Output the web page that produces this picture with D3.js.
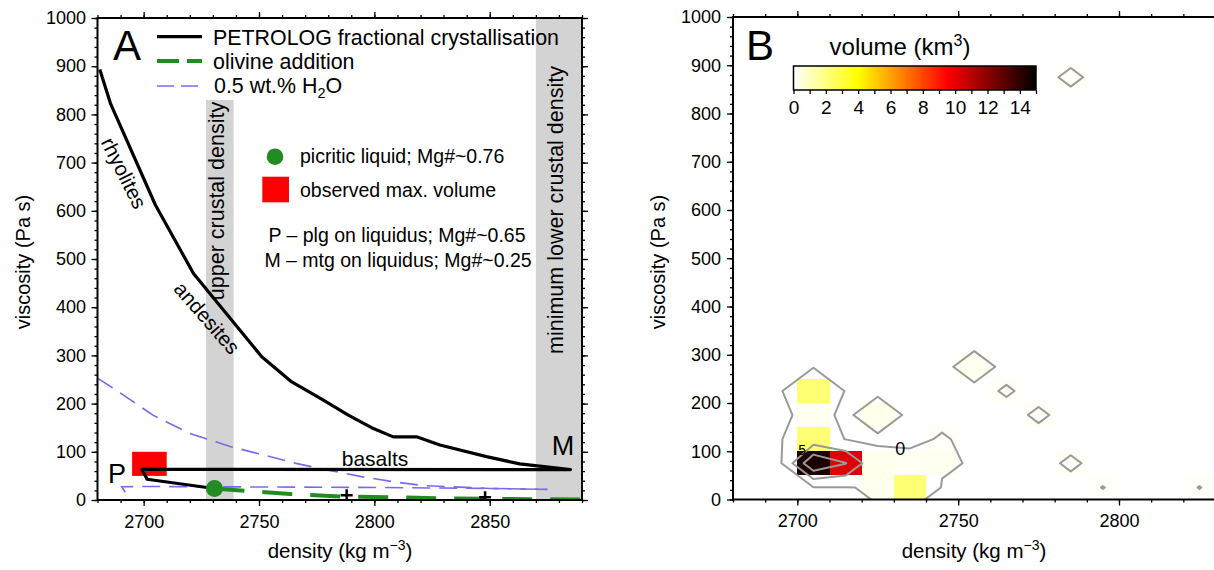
<!DOCTYPE html>
<html><head><meta charset="utf-8">
<script src="https://cdn.jsdelivr.net/npm/d3@7"></script>
<style>
body{margin:0;background:#fff}
svg text{font-family:"Liberation Sans",Arial,Helvetica,sans-serif;fill:#000}
</style></head><body>
<svg id="c" width="1214" height="570" xmlns="http://www.w3.org/2000/svg"></svg>
<script>
// ---------------- DATA (panel A) ----------------
const petrologDensity   = [2681, 2685.6, 2705.1, 2721.6, 2751.2, 2764.2, 2777.9, 2788.7, 2798.8, 2808.2, 2818.3, 2828.4, 2848.6, 2863.0, 2885, 2699.3, 2701.5, 2727.4, 2730.7];
const petrologViscosity = [893, 823, 612, 470, 297, 245, 207, 176, 150, 131, 131, 114, 90, 75, 63, 63.5, 43, 26, 24];
const olivineDensity    = [2730.7, 2739, 2763.5, 2786.5, 2808, 2830, 2852, 2870, 2890];
const olivineViscosity  = [24, 20.7, 12.4, 7, 5.5, 3.5, 2.5, 1.5, 1];
const h2oUpperDensity   = [2680, 2689, 2704, 2720, 2737.5, 2749, 2766, 2781, 2795, 2808, 2821, 2850, 2875];
const h2oUpperViscosity = [253, 225, 176, 138, 111, 97, 76, 61, 48, 38, 30, 24, 22];
const h2oLowerDensity   = [2692, 2690.5, 2700, 2750, 2800, 2850, 2875];
const h2oLowerViscosity = [16, 27.5, 28, 27, 26, 24, 22];
const picriticDensity = [2730.7], picriticViscosity = [24];
const plusDensity = [2788, 2848], plusViscosity = [10, 5.6];
const maxVolDensity = [2695, 2710], maxVolViscosity = [50, 100];
const upperCrustBand = [2727, 2739], upperCrustTop = 830;
const lowerCrustBand = [2870, 2890];
const xTicksA = [2700, 2750, 2800, 2850];
const yTicks = [0,100,200,300,400,500,600,700,800,900,1000];
// ---------------- DATA (panel B) ----------------
const cellDensity   = [2700, 2700, 2700, 2700, 2710, 2720, 2720, 2720, 2730, 2730, 2740, 2740, 2750, 2760, 2770, 2780, 2780, 2790, 2820];
const cellViscosity = [200,  150,  100,  50,   50,   50,   0,    150,  50,   0,    50,   100,  250,  200,  150,  50,   850,  0,    0];
const cellVolume    = [2.2,  0.23, 2.2,  14.4, 10.2, 0.28, 0.27, 0.33, 0.21, 2.2,  0.22, 0.11, 0.23, 0.107, 0.12, 0.12, 0.13, 0.085, 0.085];
const contourLevels = [0.08, 5, 10];
const colorbarTicks = [0,2,4,6,8,10,12,14];
const xTicksB = [2700, 2750, 2800];

const svg = d3.select('#c');
svg.append('rect').attr('width',1214).attr('height',570).attr('fill','#fff');
const defs = svg.append('defs');
const FONT = '"Liberation Sans",Arial,Helvetica,sans-serif';

function drawAxes(g, x, y, o){
  const [x0,x1] = x.range(), [y0,y1] = y.range();
  const style = sel => { sel.select('.domain').remove(); sel.attr('font-family',FONT).attr('font-size',18);
    sel.selectAll('line').attr('stroke','#000').attr('stroke-width',1.3); sel.selectAll('text').attr('fill','#000'); };
  const xMinor = d3.range(x.domain()[0], x.domain()[1]+0.01, 10);
  const yMinor = d3.range(0, 1000.01, 20);
  g.append('g').attr('transform',`translate(0,${y0})`).call(d3.axisBottom(x).tickValues(xMinor).tickSize(3).tickFormat('')).call(style);
  g.append('g').attr('transform',`translate(0,${y0})`).call(d3.axisBottom(x).tickValues(o.xTicks).tickSize(6).tickPadding(9.2).tickFormat(d3.format('d'))).call(style);
  g.append('g').attr('transform',`translate(0,${y1})`).call(d3.axisTop(x).tickValues(xMinor).tickSize(3).tickFormat('')).call(style);
  g.append('g').attr('transform',`translate(0,${y1})`).call(d3.axisTop(x).tickValues(o.xTicks).tickSize(6).tickFormat('')).call(style);
  g.append('g').attr('transform',`translate(${x0},0)`).call(d3.axisLeft(y).tickValues(yMinor).tickSize(3).tickFormat('')).call(style);
  g.append('g').attr('transform',`translate(${x0},0)`).call(d3.axisLeft(y).tickValues(yTicks).tickSize(6).tickPadding(o.lpad).tickFormat(d3.format('d'))).call(style);
  if (o.right){
    g.append('g').attr('transform',`translate(${x1},0)`).call(d3.axisRight(y).tickValues(yMinor).tickSize(3).tickFormat('')).call(style);
    g.append('g').attr('transform',`translate(${x1},0)`).call(d3.axisRight(y).tickValues(yTicks).tickSize(6).tickFormat('')).call(style);
  }
}

// ================= PANEL A =================
const xA = d3.scaleLinear([2680, 2890], [97.5, 582]);
const yA = d3.scaleLinear([0, 1000], [500, 18]);
defs.append('clipPath').attr('id','clipA').append('rect')
  .attr('x',xA.range()[0]).attr('y',yA.range()[1]).attr('width',xA.range()[1]-xA.range()[0]).attr('height',yA.range()[0]-yA.range()[1]);
const gA = svg.append('g');
const pA = gA.append('g').attr('clip-path','url(#clipA)');

pA.append('rect').attr('x',xA(upperCrustBand[0])).attr('width',xA(upperCrustBand[1])-xA(upperCrustBand[0]))
  .attr('y',yA(upperCrustTop)).attr('height',yA(0)-yA(upperCrustTop)).attr('fill','#d3d3d3');
pA.append('rect').attr('x',xA(lowerCrustBand[0])).attr('width',xA(lowerCrustBand[1])-xA(lowerCrustBand[0]))
  .attr('y',yA(1000)).attr('height',yA(0)-yA(1000)).attr('fill','#d3d3d3');

gA.append('text').attr('transform',`translate(${xA(2733)+4},${201}) rotate(-90)`).attr('text-anchor','middle')
  .attr('font-size',21.5).text('upper crustal density');
gA.append('text').attr('transform',`translate(${xA(2880)+4},${210}) rotate(-90)`).attr('text-anchor','middle')
  .attr('font-size',21.5).text('minimum lower crustal density');

pA.append('rect').attr('x',xA(maxVolDensity[0])).attr('width',xA(maxVolDensity[1])-xA(maxVolDensity[0]))
  .attr('y',yA(maxVolViscosity[1])).attr('height',yA(maxVolViscosity[0])-yA(maxVolViscosity[1])).attr('fill','#ff0000');

const lineA = d3.line().x(d=>xA(d[0])).y(d=>yA(d[1]));
const zip = (a,b)=>a.map((v,i)=>[v,b[i]]);

pA.append('path').attr('d',lineA(zip(h2oUpperDensity,h2oUpperViscosity))).attr('fill','none')
  .attr('stroke','#7b68ee').attr('stroke-width',1.6).attr('stroke-dasharray','18,9');
pA.append('path').attr('d',lineA(zip(h2oLowerDensity,h2oLowerViscosity))).attr('fill','none')
  .attr('stroke','#7b68ee').attr('stroke-width',1.6).attr('stroke-dasharray','18,9');
pA.append('path').attr('d',lineA(zip(olivineDensity,olivineViscosity))).attr('fill','none')
  .attr('stroke','#228b22').attr('stroke-width',4).attr('stroke-dasharray','30,18');
pA.append('path').attr('d',lineA(zip(petrologDensity,petrologViscosity))).attr('fill','none')
  .attr('stroke','#000').attr('stroke-width',3.2).attr('stroke-linejoin','round');

pA.selectAll('path.plus').data(zip(plusDensity,plusViscosity)).join('path').attr('class','plus')
  .attr('d',d=>{const x=xA(d[0]),y=yA(d[1]);return `M${x-6},${y}H${x+6}M${x},${y-6}V${y+6}`;})
  .attr('stroke','#000').attr('stroke-width',2.5);
pA.selectAll('circle.pic').data(zip(picriticDensity,picriticViscosity)).join('circle').attr('class','pic')
  .attr('cx',d=>xA(d[0])).attr('cy',d=>yA(d[1])).attr('r',8.5).attr('fill','#228b22');

gA.append('text').attr('transform','translate(124,173) rotate(63.5)').attr('text-anchor','middle').attr('dy','0.35em').attr('font-size',20.5).text('rhyolites');
gA.append('text').attr('transform','translate(207,318) rotate(49)').attr('text-anchor','middle').attr('dy','0.35em').attr('font-size',20.5).text('andesites');
gA.append('text').attr('x',375).attr('y',466).attr('text-anchor','middle').attr('font-size',21).text('basalts');
gA.append('text').attr('x',117).attr('y',483).attr('text-anchor','middle').attr('font-size',27).text('P');
gA.append('text').attr('x',563).attr('y',455).attr('text-anchor','middle').attr('font-size',27).text('M');

gA.append('text').attr('x',113).attr('y',60).attr('font-size',42).text('A');
gA.append('line').attr('x1',157).attr('x2',202).attr('y1',36.7).attr('y2',36.7).attr('stroke','#000').attr('stroke-width',3.2);
gA.append('text').attr('x',213).attr('y',45).attr('font-size',21.4).text('PETROLOG fractional crystallisation');
gA.append('line').attr('x1',157).attr('x2',202).attr('y1',61).attr('y2',61).attr('stroke','#228b22').attr('stroke-width',4).attr('stroke-dasharray','22,8');
gA.append('text').attr('x',213).attr('y',68.5).attr('font-size',21.4).text('olivine addition');
gA.append('line').attr('x1',157).attr('x2',202).attr('y1',86).attr('y2',86).attr('stroke','#7b68ee').attr('stroke-width',1.6).attr('stroke-dasharray','17,7');
const h2o = gA.append('text').attr('x',214).attr('y',93).attr('font-size',21.4);
h2o.append('tspan').text('0.5 wt.% H');
h2o.append('tspan').attr('font-size',14.5).attr('dy',5).text('2');
h2o.append('tspan').attr('dy',-5).text('O');

gA.append('circle').attr('cx',275).attr('cy',156.7).attr('r',8.3).attr('fill','#228b22');
gA.append('text').attr('x',300).attr('y',163).attr('font-size',19.5).text('picritic liquid; Mg#~0.76');
gA.append('rect').attr('x',262.3).attr('y',176.7).attr('width',26.7).attr('height',25.6).attr('fill','#ff0000');
gA.append('text').attr('x',300).attr('y',197).attr('font-size',19.5).text('observed max. volume');
gA.append('text').attr('x',397).attr('y',242).attr('text-anchor','middle').attr('font-size',19.5).text('P \u2013 plg on liquidus; Mg#~0.65');
gA.append('text').attr('x',398).attr('y',267).attr('text-anchor','middle').attr('font-size',19.5).text('M \u2013 mtg on liquidus; Mg#~0.25');

drawAxes(gA, xA, yA, {xTicks:xTicksA, lpad:5.5, right:true});
gA.append('rect').attr('x',xA.range()[0]).attr('y',yA.range()[1]).attr('width',xA.range()[1]-xA.range()[0])
  .attr('height',yA.range()[0]-yA.range()[1]).attr('fill','none').attr('stroke','#000').attr('stroke-width',2);

gA.append('text').attr('transform','translate(30,262) rotate(-90)').attr('text-anchor','middle').attr('font-size',20).text('viscosity (Pa s)');
const xlA = gA.append('text').attr('x',340).attr('y',558).attr('text-anchor','middle').attr('font-size',20.5);
xlA.append('tspan').text('density (kg m');
xlA.append('tspan').attr('font-size',14).attr('dy',-8).text('\u22123');
xlA.append('tspan').attr('dy',8).text(')');

// ================= PANEL B =================
const xB = d3.scaleLinear([2680, 2830], [733, 1215.5]);
const yB = d3.scaleLinear([0, 1000], [499.5, 17]);
defs.append('clipPath').attr('id','clipB').append('rect')
  .attr('x',xB.range()[0]).attr('y',yB.range()[1]).attr('width',xB.range()[1]-xB.range()[0]).attr('height',yB.range()[0]-yB.range()[1]);
const gB = svg.append('g');
const pB = gB.append('g').attr('clip-path','url(#clipB)');
const color = d3.scaleLinear().domain([0,4,9.5,15]).range(['#ffffff','#ffff00','#ff0000','#000000']).clamp(true);

pB.selectAll('rect.cell').data(cellDensity.map((d,i)=>({d, v:cellViscosity[i], w:cellVolume[i]}))).join('rect').attr('class','cell')
  .attr('x',c=>xB(c.d)).attr('width',c=>xB(c.d+10)-xB(c.d))
  .attr('y',c=>yB(c.v+50)).attr('height',c=>yB(c.v)-yB(c.v+50))
  .attr('fill',c=>color(c.w)).attr('shape-rendering','crispEdges');

const gx0 = 2670, gy0 = -50, nx = 17, ny = 22;
const grid = new Array(nx*ny).fill(0);
cellDensity.forEach((d,k)=>{ const i=Math.round((d-gx0)/10), j=Math.round((cellViscosity[k]-gy0)/50); grid[j*nx+i]=cellVolume[k]; });
const cont = d3.contours().size([nx,ny]).thresholds(contourLevels)(grid);
const proj = d3.geoTransform({point(px,py){ this.stream.point(xB(gx0+10*px), yB(gy0+50*py)); }});
const cpath = d3.geoPath(proj);
pB.selectAll('path.cont').data(cont).join('path').attr('class','cont').attr('d',cpath)
  .attr('fill','none').attr('stroke','#999').attr('stroke-width',2).attr('stroke-linejoin','round');
pB.append('text').attr('x',xB(2732)).attr('y',yB(105)).attr('dy','0.35em').attr('text-anchor','middle').attr('font-size',18).text('0');
pB.append('text').attr('x',xB(2701.5)).attr('y',yB(103)).attr('dy','0.35em').attr('text-anchor','middle').attr('font-size',14).text('5');

drawAxes(gB, xB, yB, {xTicks:xTicksB, lpad:6, right:false});
gB.append('path').attr('d',`M${xB.range()[1]},${yB.range()[1]}H${xB.range()[0]}V${yB.range()[0]}H${xB.range()[1]}`)
  .attr('fill','none').attr('stroke','#000').attr('stroke-width',2);

gB.append('text').attr('x',746).attr('y',60).attr('font-size',42).text('B');
gB.append('text').attr('transform','translate(665,262) rotate(-90)').attr('text-anchor','middle').attr('font-size',20).text('viscosity (Pa s)');
const xlB = gB.append('text').attr('x',974).attr('y',558).attr('text-anchor','middle').attr('font-size',20.5);
xlB.append('tspan').text('density (kg m');
xlB.append('tspan').attr('font-size',14).attr('dy',-8).text('\u22123');
xlB.append('tspan').attr('dy',8).text(')');

const cb = d3.scaleLinear([0,15],[793.5,1036]);
const grad = defs.append('linearGradient').attr('id','cbgrad').attr('x1','0%').attr('x2','100%');
color.domain().forEach(v=>grad.append('stop').attr('offset',(v/15*100)+'%').attr('stop-color',color(v)));
gB.append('rect').attr('x',cb(0)).attr('y',66).attr('width',cb(15)-cb(0)).attr('height',24)
  .attr('fill','url(#cbgrad)').attr('stroke','#000').attr('stroke-width',1.5);
gB.append('g').attr('transform','translate(0,90)').call(d3.axisBottom(cb).tickValues(d3.range(0,15.01,1)).tickSize(4).tickFormat(''))
  .call(s=>{s.select('.domain').remove(); s.selectAll('line').attr('stroke','#000').attr('stroke-width',1.3);});
gB.append('g').attr('transform','translate(0,90)').call(d3.axisBottom(cb).tickValues(colorbarTicks).tickSize(0).tickPadding(11).tickFormat(d3.format('d')))
  .call(s=>{s.select('.domain').remove(); s.attr('font-family',FONT).attr('font-size',19); s.selectAll('text').attr('fill','#000');});
const cbt = gB.append('text').attr('x',900).attr('y',55).attr('text-anchor','middle').attr('font-size',24);
cbt.append('tspan').text('volume (km');
cbt.append('tspan').attr('font-size',16).attr('dy',-9).text('3');
cbt.append('tspan').attr('dy',9).text(')');
</script>
</body></html>
